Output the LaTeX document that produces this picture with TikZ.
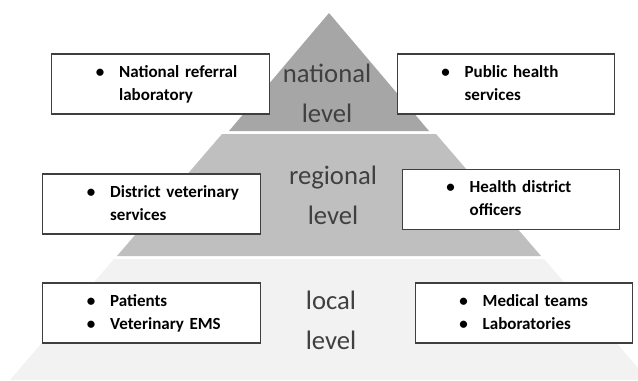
\documentclass[tikz,border=0pt]{standalone}
\usepackage{fontspec}
\setmainfont{Carlito}
\usetikzlibrary{positioning}

\definecolor{natgray}{HTML}{A6A6A6}
\definecolor{reggray}{HTML}{BFBFBF}
\definecolor{locgray}{HTML}{F2F2F2}
\definecolor{boxline}{HTML}{3F3F3F}
\definecolor{lvltext}{HTML}{404040}

% bullet list inside a box: bullet column, then the item text
\newcommand{\bulletlist}[1]{\hspace*{33pt}\begin{tabular}{@{}p{17.5pt}@{}l@{}}#1\end{tabular}}

\tikzset{
  listbox/.style={draw=boxline, fill=white, line width=0.8pt, inner sep=0pt,
    text width=163pt, minimum height=45pt, align=left,
    font=\bfseries\fontsize{12.75}{17.25}\selectfont},
  lvl/.style={align=center, text=lvltext, font=\fontsize{20}{30}\selectfont}
}

\begin{document}
\begin{tikzpicture}[x=0.75pt, y=-0.75pt]
    \useasboundingbox (0,0) rectangle (638,380);
    \fill[white] (0,0) rectangle (638,380);

    % the three layers of the pyramid
    \fill[natgray] (329,13) -- (429,131) -- (229,131) -- cycle;
    \fill[reggray] (222,134) -- (436,134) -- (541,256) -- (117,256) -- cycle;
    \fill[locgray] (114,259) -- (544,259) -- (638,368) -- (638,380) -- (10,380) -- cycle;

    \node[lvl] (national) at (327,93) {national\\level};
    \node[lvl] (regional) at (333,195) {regional\\level};
    \node[lvl] (local) at (331,320) {local\\level};

    \node[listbox] (nrl) at (160.5,84) {\bulletlist{\textbullet & National referral\\ & laboratory}};
    \node[listbox] (phs) at (506,84) {\bulletlist{\textbullet & Public health\\ & services}};

    \node[listbox] (dvs) at (151.5,204) {\bulletlist{\textbullet & District veterinary\\ & services}};
    \node[listbox] (hdo) at (511,199.5) {\bulletlist{\textbullet & Health district\\ & officers}};

    \node[listbox] (pat) at (151.5,313) {\bulletlist{\textbullet & Patients\\ \textbullet & Veterinary EMS}};
    \node[listbox] (med) at (524,313) {\bulletlist{\textbullet & Medical teams\\ \textbullet & Laboratories}};
\end{tikzpicture}
\end{document}
